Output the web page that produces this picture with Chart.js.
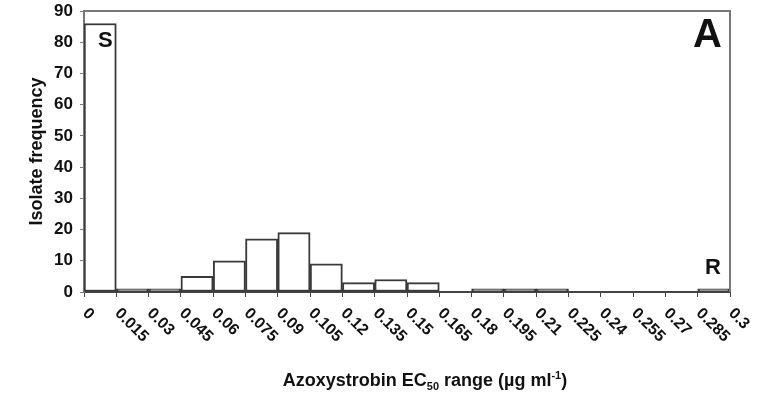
<!DOCTYPE html>
<html>
<head>
<meta charset="utf-8">
<script src="https://cdn.jsdelivr.net/npm/chart.js@4/dist/chart.umd.min.js"></script>
<style>
    html, body { margin: 0; padding: 0; background: #fff; }
    #wrap { width: 775px; height: 398px; position: relative; }
</style>
</head>
<body>
<div id="wrap"><canvas id="histChart"></canvas></div>
<script>
/* Azoxystrobin EC50 histogram (panel A) */

const binEdges = ['0', '0.015', '0.03', '0.045', '0.06', '0.075', '0.09', '0.105', '0.12', '0.135',
    '0.15', '0.165', '0.18', '0.195', '0.21', '0.225', '0.24', '0.255', '0.27', '0.285', '0.3'];
const isolateCounts = [86, 1, 1, 5, 10, 17, 19, 9, 3, 4, 3, 0, 1, 1, 1, 0, 0, 0, 0, 1];
const yTicks = [0, 10, 20, 30, 40, 50, 60, 70, 80, 90];

const FONT = '"Liberation Sans", Arial, sans-serif';

(function () {
    const points = isolateCounts.map(function (v, i) {
        return { x: (Number(binEdges[i]) + Number(binEdges[i + 1])) / 2, y: v };
    });
    // single-isolate bars render as a grey band in the original
    const fills = isolateCounts.map(function (v) { return v <= 1 ? '#8c8c8c' : '#ffffff'; });

    const decorations = {
        id: 'decorations',
        afterDraw: function (chart) {
            const ctx = chart.ctx;
            const area = chart.chartArea;
            const xs = chart.scales.x;
            ctx.save();

            // frame top and right
            ctx.strokeStyle = '#777';
            ctx.lineWidth = 2;
            ctx.beginPath();
            ctx.moveTo(area.left, area.top);
            ctx.lineTo(area.right, area.top);
            ctx.lineTo(area.right, area.bottom);
            ctx.stroke();

            // rotated tick labels
            ctx.fillStyle = '#111';
            ctx.font = 'bold 16px ' + FONT;
            ctx.textAlign = 'left';
            ctx.textBaseline = 'middle';
            binEdges.forEach(function (lbl) {
                const px = xs.getPixelForValue(Number(lbl));
                ctx.save();
                ctx.translate(px + 1, area.bottom + 19);
                ctx.rotate(Math.PI / 4);
                ctx.fillText(lbl, 0, 0);
                ctx.restore();
            });

            // x axis title with sub/superscript
            const parts = [
                { t: 'Azoxystrobin EC', f: 'bold 18px ', dy: 0 },
                { t: '50', f: 'bold 11px ', dy: 4 },
                { t: ' range (\u00b5g ml', f: 'bold 18px ', dy: 0 },
                { t: '-1', f: 'bold 11px ', dy: -7 },
                { t: ')', f: 'bold 18px ', dy: 0 },
            ];
            let total = 0;
            parts.forEach(function (p) {
                ctx.font = p.f + FONT;
                p.w = ctx.measureText(p.t).width;
                total += p.w;
            });
            let tx = 425 - total / 2;
            ctx.textBaseline = 'alphabetic';
            parts.forEach(function (p) {
                ctx.font = p.f + FONT;
                ctx.fillText(p.t, tx, 386 + p.dy);
                tx += p.w;
            });

            // panel annotations
            ctx.font = 'bold 22px ' + FONT;
            ctx.fillText('S', area.left + 14, 47);
            ctx.fillText('R', area.right - 25, 274);
            ctx.font = 'bold 40px ' + FONT;
            ctx.textAlign = 'right';
            ctx.fillText('A', area.right - 8, 47);
            ctx.restore();
        },
    };

    new Chart(document.getElementById('histChart'), {
        type: 'bar',
        data: {
            datasets: [{
                data: points,
                backgroundColor: fills,
                borderColor: '#3a3a3a',
                borderWidth: 2,
                borderSkipped: false,
                categoryPercentage: 1,
                barPercentage: 1,
            }],
        },
        options: {
            responsive: true,
            maintainAspectRatio: false,
            animation: false,
            layout: { padding: { top: 11, right: 45, left: 0, bottom: 0 } },
            plugins: {
                legend: { display: false },
                tooltip: { enabled: false },
            },
            scales: {
                x: {
                    type: 'linear',
                    min: 0,
                    max: 0.3,
                    offset: false,
                    afterBuildTicks: function (scale) {
                        scale.ticks = binEdges.map(function (v) { return { value: Number(v) }; });
                    },
                    afterFit: function (scale) {
                        scale.height = 106;
                        scale.paddingLeft = 0;
                        scale.paddingRight = 0;
                    },
                    border: { color: '#444', width: 2 },
                    grid: { offset: false, drawOnChartArea: false, tickLength: 5, color: '#444' },
                    ticks: { display: false },
                },
                y: {
                    min: 0,
                    max: 90,
                    afterBuildTicks: function (scale) {
                        scale.ticks = yTicks.map(function (v) { return { value: v }; });
                    },
                    afterFit: function (scale) {
                        scale.width = 84;
                        scale.paddingTop = 0;
                        scale.paddingBottom = 0;
                    },
                    border: { color: '#777', width: 2 },
                    grid: { drawOnChartArea: false, tickLength: 4, color: '#777' },
                    ticks: {
                        color: '#111',
                        padding: 7,
                        font: { family: FONT, size: 17, weight: 'bold' },
                    },
                    title: {
                        display: true,
                        text: 'Isolate frequency',
                        color: '#111',
                        padding: { top: 26, bottom: 0 },
                        font: { family: FONT, size: 18, weight: 'bold' },
                    },
                },
            },
        },
        plugins: [decorations],
    });
})();
</script>
</body>
</html>
